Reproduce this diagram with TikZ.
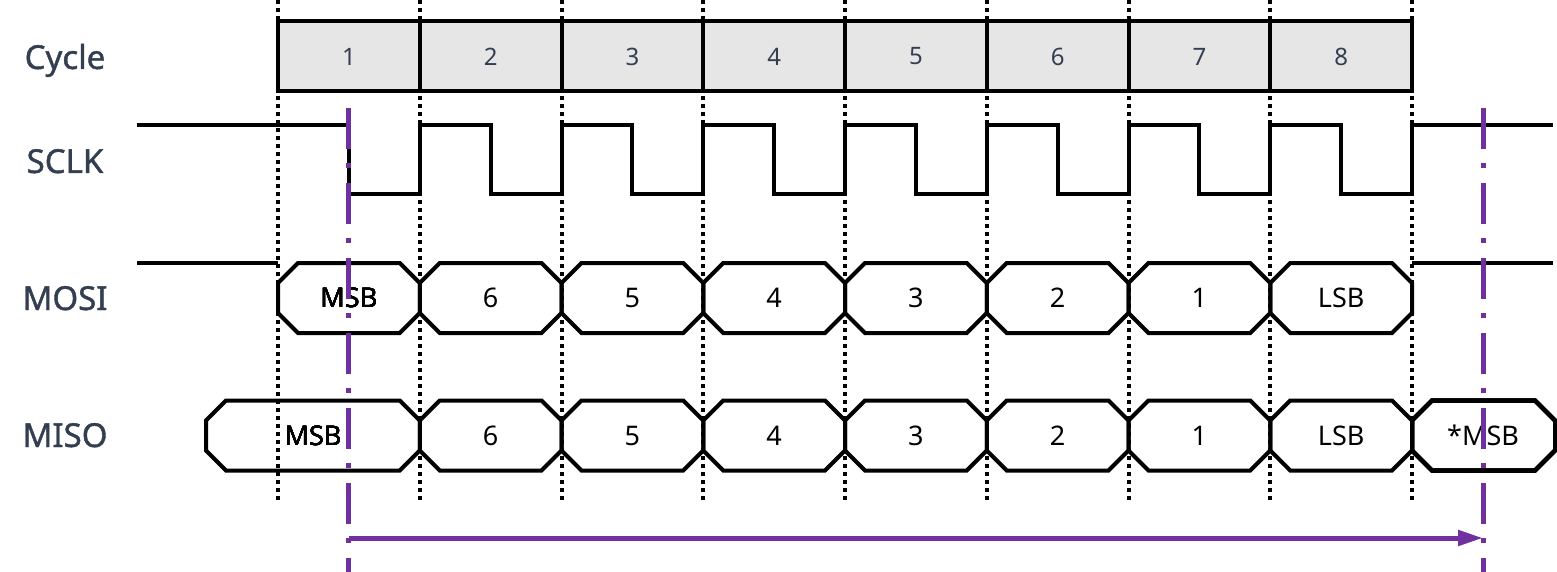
\documentclass[tikz,border=0pt]{standalone}
\usepackage{fontspec}
\setmainfont{Noto Sans}
\newfontfamily\labelfont{Noto Sans}[FakeBold=1.2]
\usetikzlibrary{arrows.meta}
\definecolor{slate}{RGB}{51,63,80}
\definecolor{cellgray}{RGB}{230,230,230}
\definecolor{markpurple}{RGB}{112,48,160}
\newcommand\busseg[3]{%
  \draw[sig] (#1,{#3-15}) -- ({#1+20},{#3-35}) -- ({#2-20},{#3-35}) -- (#2,{#3-15})
    -- (#2,{#3+15}) -- ({#2-20},{#3+35}) -- ({#1+20},{#3+35}) -- (#1,{#3+15}) -- cycle;}
\begin{document}
\begin{tikzpicture}[x=1pt,y=-1pt,
  sig/.style={line width=4pt, line join=miter},
  gridline/.style={line width=4pt, dash pattern=on 4pt off 4pt},
  cyclebox/.style={draw, line width=4pt, fill=cellgray, minimum width=141.75pt, minimum height=70pt, inner sep=0pt, text=slate, font=\fontsize{24}{28}\selectfont},
  rowlabel/.style={anchor=base, text=slate, font=\labelfont\fontsize{33}{38}\selectfont, inner sep=0pt},
  bitval/.style={inner sep=0pt, font=\fontsize{27}{32}\selectfont},
  marker/.style={draw=markpurple, line width=5pt, dash pattern=on 41pt off 14pt on 5pt off 15pt},
  markarrow/.style={draw=markpurple, line width=5pt, -{Triangle[length=25pt,width=15pt]}},
]
\useasboundingbox (0,0) rectangle (1557,572);

% dotted cycle boundaries
\foreach \i in {0,...,8}
  \draw[gridline] ({278+141.75*\i},0) -- ({278+141.75*\i},500);

% cycle boxes
\foreach \i in {1,...,8}
  \node[cyclebox] (cyc\i) at ({278+141.75*(\i-0.5)},56.5) {\i};

% row labels
\node[rowlabel] (lcycle) at (65,69) {Cycle};
\node[rowlabel] (lsclk) at (65,173) {SCLK};
\node[rowlabel] (lmosi) at (65,310) {MOSI};
\node[rowlabel] (lmiso) at (65,447) {MISO};

% SCLK waveform
\draw[sig] (137,125) foreach \i in {0,...,7} {
   -- ({348.875+141.75*\i},125) -- ({348.875+141.75*\i},194)
   -- ({419.75+141.75*\i},194) -- ({419.75+141.75*\i},125) } -- (1553,125);

% MOSI
\draw[sig] (137,263) -- (278,263);
\draw[sig] (1412,263) -- (1553,263);
\foreach \i in {0,...,7}
  \busseg{278+141.75*\i}{419.75+141.75*\i}{298}
\node[bitval] (mosi1) at (348.875,298) {MSB};
\node[bitval] (mosi2) at (490.625,298) {6};
\node[bitval] (mosi3) at (632.375,298) {5};
\node[bitval] (mosi4) at (774.125,298) {4};
\node[bitval] (mosi5) at (915.875,298) {3};
\node[bitval] (mosi6) at (1057.625,298) {2};
\node[bitval] (mosi7) at (1199.375,298) {1};
\node[bitval] (mosi8) at (1341.125,298) {LSB};

% MISO
\busseg{206}{419.75}{435.5}
\foreach \i in {1,...,7}
  \busseg{278+141.75*\i}{419.75+141.75*\i}{435.5}
\busseg{1412}{1555}{435.5}
\node[bitval] (miso1) at (313,435.5) {MSB};
\node[bitval] (miso2) at (490.625,435.5) {6};
\node[bitval] (miso3) at (632.375,435.5) {5};
\node[bitval] (miso4) at (774.125,435.5) {4};
\node[bitval] (miso5) at (915.875,435.5) {3};
\node[bitval] (miso6) at (1057.625,435.5) {2};
\node[bitval] (miso7) at (1199.375,435.5) {1};
\node[bitval] (miso8) at (1341.125,435.5) {LSB};
\node[bitval] (miso9) at (1483,435.5) {*MSB};

% purple markers
\coordinate (m1top) at (348.875,108);
\coordinate (m1bot) at (348.875,572);
\coordinate (m2top) at (1483,108);
\coordinate (m2bot) at (1483,572);
\draw[marker] (m1top) -- (m1bot);
\draw[marker] (m2top) -- (m2bot);
\coordinate (arrS) at (348.875,538);
\coordinate (arrE) at (1483,538);
\draw[markarrow] (arrS) -- (arrE);
\end{tikzpicture}
\end{document}
